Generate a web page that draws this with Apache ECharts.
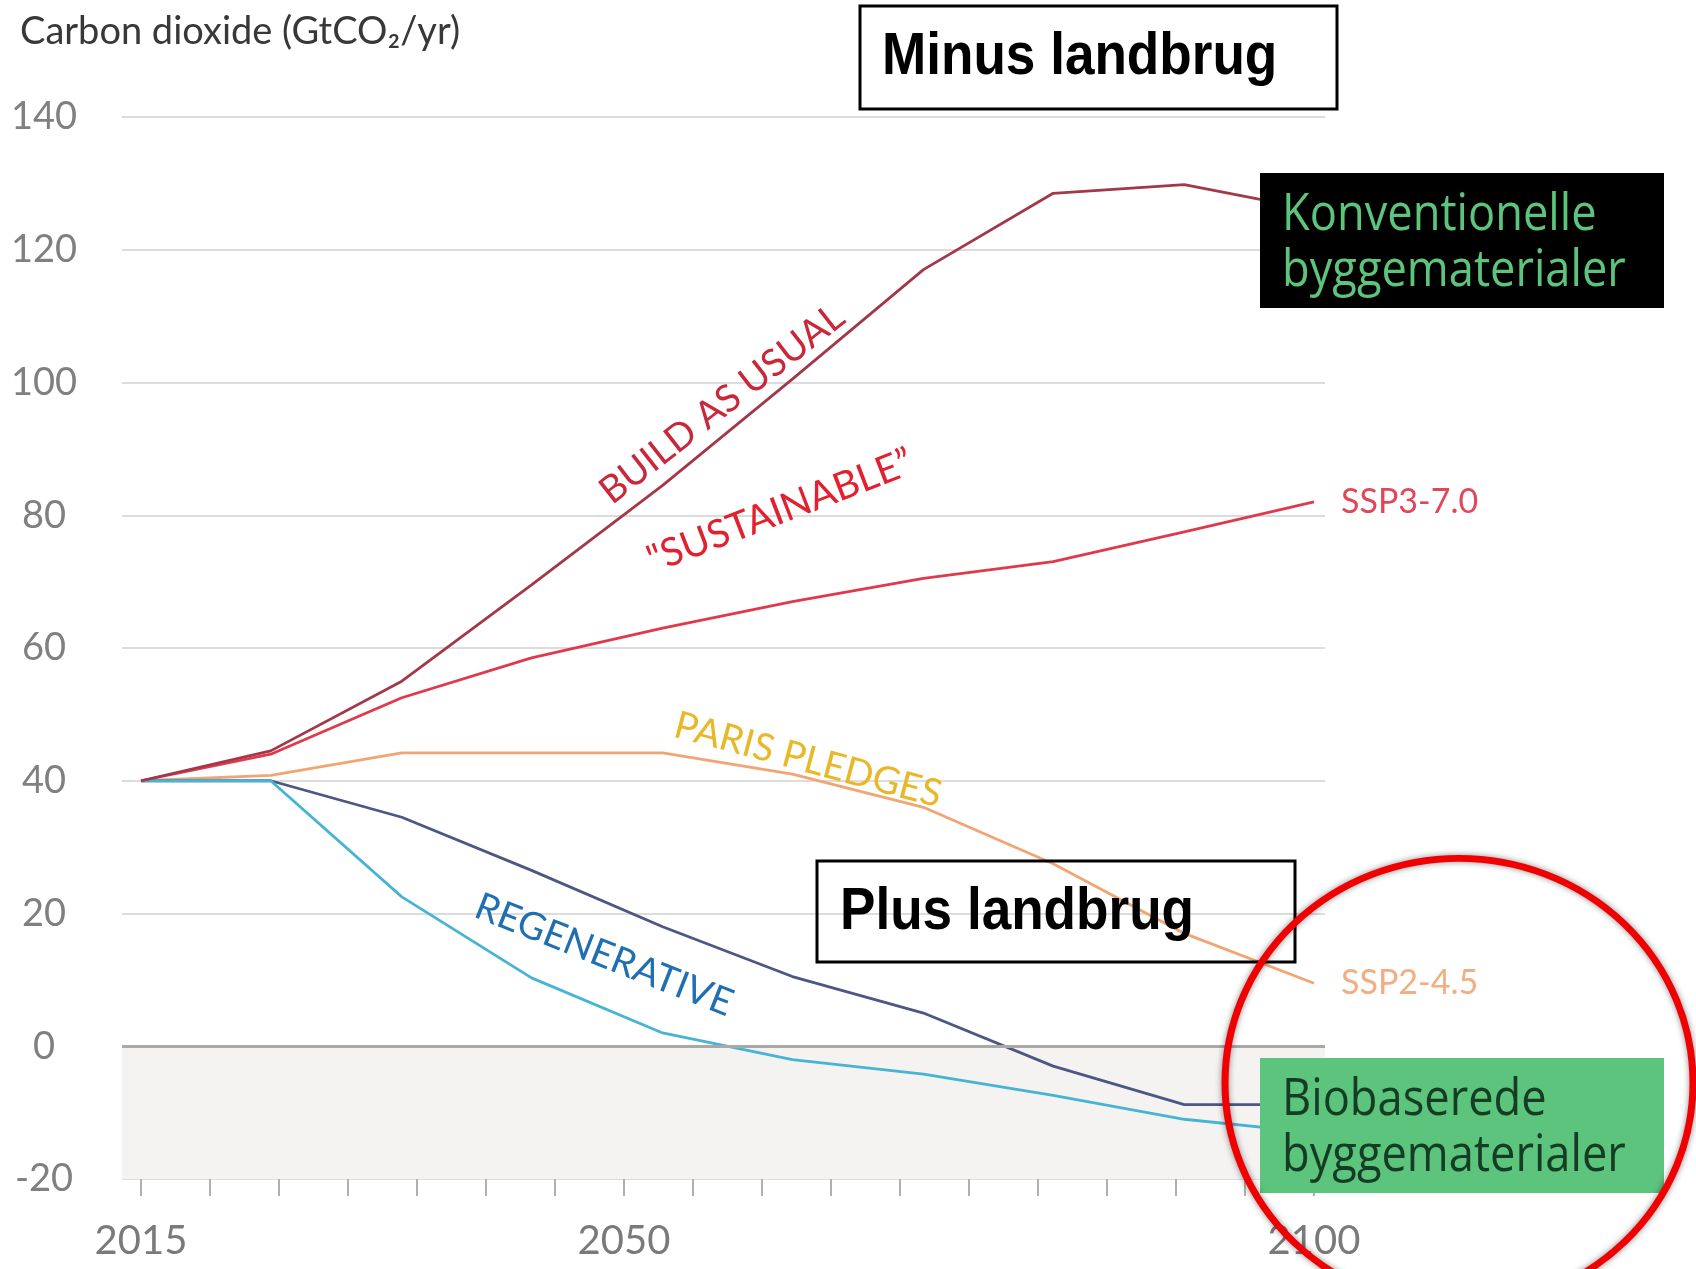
<!DOCTYPE html>
<html>
  <head>
    <meta charset="utf-8" />
    <script src="https://cdn.jsdelivr.net/npm/echarts@6.0.0/dist/echarts.min.js"></script>
    <style>
      html, body { margin: 0; padding: 0; background: #fff; }
    </style>
  </head>
  <body>
    <div id="main" style="width: 1696px; height: 1269px"></div>

    <script type="text/javascript">
      // years of the data points (evenly spread 2015 -> 2100)
      var years = [2015, 2024.4, 2033.9, 2043.3, 2052.8, 2062.2, 2071.7, 2081.1, 2090.6, 2100];

      // GtCO2/yr per scenario
      var buildAsUsual = [40, 44.5, 55, 69.5, 84.5, 100.5, 117, 128.5, 129.8, 126];
      var sustainable = [40, 44, 52.5, 58.5, 63, 67, 70.5, 73, 77.5, 82];
      var parisPledges = [40, 40.8, 44.2, 44.2, 44.2, 41, 36, 27.5, 17, 9.5];
      var regenerativeUpper = [40, 40, 34.5, 26.5, 18, 10.5, 5, -3, -8.8, -8.8];
      var regenerativeLower = [40, 40, 22.5, 10.3, 2, -2, -4.2, -7.4, -11, -13];

      var yMin = -20, yMax = 140, yStep = 20;
      var xLabelYears = [2015, 2050, 2100];

      function pairs(vals) {
        return years.map(function (y, i) { return [y, vals[i]]; });
      }

      var chartFont = "Lato";
      var myChart = echarts.init(document.getElementById("main"));

      function line(name, vals, color, extra) {
        var s = {
          name: name,
          type: "line",
          xAxisIndex: 1,
          yAxisIndex: 1,
          data: pairs(vals),
          showSymbol: false,
          lineStyle: { color: color, width: 2.8 },
          itemStyle: { color: color },
          z: 3
        };
        return Object.assign(s, extra || {});
      }

      var option = {
        animation: false,
        backgroundColor: "#ffffff",
        title: {
          text: "Carbon dioxide (GtCO\u2082/yr)",
          left: 15,
          top: 8,
          textStyle: { fontFamily: chartFont, fontSize: 38, fontWeight: "normal", color: "#383838" }
        },
        grid: [
          { left: 122, top: 117, width: 1203, height: 1062 },
          { left: 141, top: 117, width: 1173, height: 1062 }
        ],
        xAxis: [
          { gridIndex: 0, type: "value", min: 0, max: 1, show: false },
          {
            gridIndex: 1,
            type: "value",
            position: "bottom",
            min: 2015,
            max: 2100,
            interval: 5,
            axisLine: { show: true, onZero: false, lineStyle: { color: "#dcdcdc", width: 2 } },
            splitLine: { show: false },
            axisTick: { show: true, inside: false, length: 17, lineStyle: { color: "#b0b0b0", width: 2 } },
            axisLabel: {
              margin: 42,
              fontFamily: chartFont,
              fontSize: 40,
              color: "#7a7a7a",
              formatter: function (v) {
                return xLabelYears.indexOf(v) >= 0 ? String(v) : "";
              }
            }
          }
        ],
        yAxis: [
          {
            gridIndex: 0,
            type: "value",
            min: yMin,
            max: yMax,
            interval: yStep,
            axisLine: { show: false },
            axisTick: { show: false },
            splitLine: { lineStyle: { color: "#dcdcdc", width: 2 } },
            axisLabel: {
              align: "center",
              margin: 78,
              fontFamily: chartFont,
              fontSize: 38,
              color: "#808080"
            }
          },
          { gridIndex: 1, type: "value", min: yMin, max: yMax, show: false }
        ],
        series: [
          {
            type: "line",
            xAxisIndex: 0,
            yAxisIndex: 0,
            data: [],
            silent: true,
            markArea: {
              silent: true,
              itemStyle: { color: "#f4f3f1" },
              data: [[{ yAxis: yMin }, { yAxis: 0 }]]
            },
            markLine: {
              silent: true,
              symbol: "none",
              label: { show: false },
              lineStyle: { color: "#a9a9a9", width: 3, type: "solid" },
              data: [{ yAxis: 0 }]
            }
          },
          line("Paris pledges", parisPledges, "#f2a574", {
            endLabel: {
              show: true,
              formatter: "SSP2-4.5",
              distance: 27,
              fontFamily: chartFont,
              fontSize: 34,
              color: "#f2ad82"
            }
          }),
          line("Regenerative (upper)", regenerativeUpper, "#4e5683"),
          line("Regenerative (lower)", regenerativeLower, "#47b4d4"),
          line("Sustainable", sustainable, "#e0394b", {
            endLabel: {
              show: true,
              formatter: "SSP3-7.0",
              distance: 27,
              fontFamily: chartFont,
              fontSize: 34,
              color: "#e0485a"
            }
          }),
          line("Build as usual", buildAsUsual, "#a23849")
        ],
        graphic: [
          // scenario labels along the lines
          {
            type: "text", x: 722, y: 404, rotation: 38 * Math.PI / 180, z: 10,
            style: { text: "BUILD AS USUAL", fontFamily: chartFont, fontSize: 38, fill: "#c8283a", textAlign: "center", textVerticalAlign: "middle" }
          },
          {
            type: "text", x: 780, y: 511, rotation: 21 * Math.PI / 180, z: 10,
            style: { text: "\"SUSTAINABLE\u201d", fontFamily: chartFont, fontSize: 39, fill: "#e2202f", textAlign: "center", textVerticalAlign: "middle" }
          },
          {
            type: "text", x: 808, y: 760, rotation: -15 * Math.PI / 180, z: 10,
            style: { text: "PARIS PLEDGES", fontFamily: chartFont, fontSize: 38, fill: "#e8b829", textAlign: "center", textVerticalAlign: "middle" }
          },
          {
            type: "text", x: 604, y: 955, rotation: -21.5 * Math.PI / 180, z: 10,
            style: { text: "REGENERATIVE", fontFamily: chartFont, fontSize: 38, fill: "#1f6fb2", textAlign: "center", textVerticalAlign: "middle" }
          },
          // boxed notes
          {
            type: "rect", z: 20,
            shape: { x: 860, y: 6, width: 477, height: 103 },
            style: { fill: "#ffffff", stroke: "#000000", lineWidth: 3 }
          },
          {
            type: "text", x: 882, y: 58, scaleX: 0.9, z: 21,
            style: { text: "Minus landbrug", fontFamily: "Liberation Sans", fontWeight: "bold", fontSize: 59, fill: "#000000", textAlign: "left", textVerticalAlign: "middle" }
          },
          {
            type: "rect", z: 20,
            shape: { x: 817, y: 861, width: 478, height: 101 },
            style: { fill: "rgba(255,255,255,0)", stroke: "#000000", lineWidth: 3 }
          },
          {
            type: "text", x: 840, y: 913, scaleX: 0.9, z: 21,
            style: { text: "Plus landbrug", fontFamily: "Liberation Sans", fontWeight: "bold", fontSize: 59, fill: "#000000", textAlign: "left", textVerticalAlign: "middle" }
          },
          {
            type: "rect", z: 20,
            shape: { x: 1260, y: 173, width: 404, height: 135 },
            style: { fill: "#000000" }
          },
          {
            type: "text", x: 1282, y: 215, scaleX: 0.87, z: 21,
            style: { text: "Konventionelle", fontFamily: "Open Sans", fontSize: 52, fill: "#5cc47c", textAlign: "left", textVerticalAlign: "middle" }
          },
          {
            type: "text", x: 1282, y: 271, scaleX: 0.87, z: 21,
            style: { text: "byggematerialer", fontFamily: "Open Sans", fontSize: 52, fill: "#5cc47c", textAlign: "left", textVerticalAlign: "middle" }
          },
          {
            type: "rect", z: 20,
            shape: { x: 1260, y: 1058, width: 404, height: 135 },
            style: { fill: "#5cc47c" }
          },
          {
            type: "text", x: 1282, y: 1100, scaleX: 0.87, z: 21,
            style: { text: "Biobaserede", fontFamily: "Open Sans", fontSize: 52, fill: "#143d24", textAlign: "left", textVerticalAlign: "middle" }
          },
          {
            type: "text", x: 1282, y: 1156, scaleX: 0.87, z: 21,
            style: { text: "byggematerialer", fontFamily: "Open Sans", fontSize: 52, fill: "#143d24", textAlign: "left", textVerticalAlign: "middle" }
          },
          // red highlight ring
          {
            type: "circle", x: 1459, y: 1083, scaleY: 0.96, z: 30,
            shape: { cx: 0, cy: 0, r: 234 },
            style: { fill: "none", stroke: "#f00000", lineWidth: 7, shadowBlur: 6, shadowColor: "rgba(0,0,0,0.45)" }
          }
        ]
      };

      myChart.setOption(option);
    </script>
  </body>
</html>
